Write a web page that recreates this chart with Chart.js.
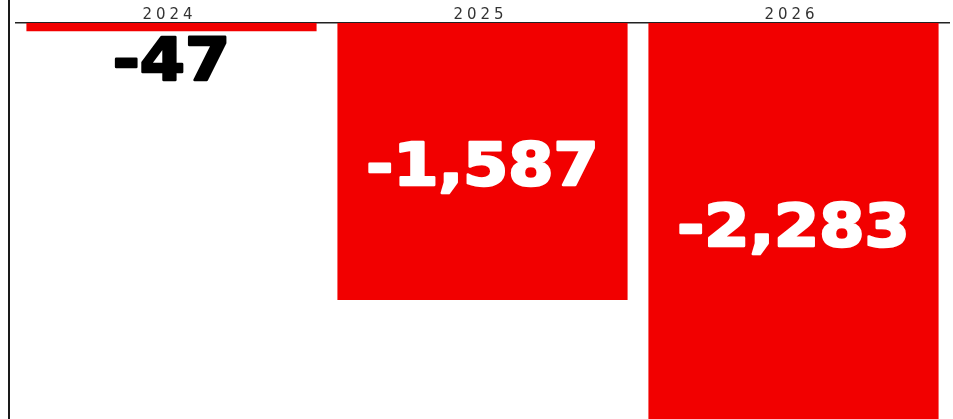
<!DOCTYPE html>
<html>
<head>
<meta charset="utf-8">
<script src="https://cdn.jsdelivr.net/npm/chart.js@4/dist/chart.umd.min.js"></script>
<style>
  html, body { margin: 0; padding: 0; background: #fff; }
  #wrap { position: relative; width: 953px; height: 419px; overflow: hidden; }
  #leftRule { position: absolute; left: 8px; top: 0; width: 2px; height: 419px; background: #1a1a1a; }
</style>
</head>
<body>
<div id="wrap">
  <canvas id="grafico"></canvas>
  <div id="leftRule"></div>
</div>
<script>
// dados do gráfico
const anos = ['2024', '2025', '2026'];
const valores = [-47, -1587, -2283];
const rotulos = ['-47', '-1,587', '-2,283'];

// rótulos grandes sobre as barras
const rotulosBarras = {
    id: 'rotulosBarras',
    beforeDraw(chart) {
        chart.ctx.letterSpacing = '4px';
    },
    beforeDatasetsDraw(chart) {
        chart.ctx.letterSpacing = '0px';
    },
    afterDatasetsDraw(chart) {
        const ctx = chart.ctx;
        const meta = chart.getDatasetMeta(0);
        meta.data.forEach((bar, i) => {
            const altura = Math.abs(bar.y - bar.base);
            let cy, cor;
            if (altura < 60) {
                cy = bar.y + 28;
                cor = '#000';
            } else {
                cy = (bar.y + bar.base) / 2 + 3;
                cor = '#fff';
            }
            ctx.save();
            ctx.letterSpacing = '0px';
            ctx.translate(bar.x, cy + 21);
            ctx.scale(1.12, 1);
            ctx.font = 'bold 58px "DejaVu Sans"';
            ctx.textAlign = 'center';
            ctx.textBaseline = 'alphabetic';
            ctx.fillStyle = cor;
            ctx.strokeStyle = cor;
            ctx.lineWidth = 2.5;
            ctx.lineJoin = 'round';
            ctx.fillText(rotulos[i], 0, 0);
            ctx.strokeText(rotulos[i], 0, 0);
            ctx.restore();
        });
    }
};

new Chart(document.getElementById('grafico'), {
    type: 'bar',
    data: {
        labels: anos,
        datasets: [{
            data: valores,
            backgroundColor: '#f20000',
            borderWidth: 0,
            barPercentage: 0.933,
            categoryPercentage: 1
        }]
    },
    options: {
        responsive: true,
        maintainAspectRatio: false,
        animation: false,
        layout: { padding: { left: 16, right: 4, top: 0, bottom: 0 } },
        plugins: { legend: { display: false }, tooltip: { enabled: false } },
        scales: {
            x: {
                position: 'top',
                grid: { display: false, drawTicks: false },
                border: { display: true, color: '#222', width: 1.5 },
                afterFit: s => { s.height = 23; },
                ticks: {
                    color: '#333',
                    padding: 0,
                    labelOffset: -2,
                    font: { family: '"DejaVu Sans"', size: 15, lineHeight: 1 }
                }
            },
            y: {
                display: false,
                min: -2269,
                max: 0
            }
        }
    },
    plugins: [rotulosBarras]
});
</script>
</body>
</html>
